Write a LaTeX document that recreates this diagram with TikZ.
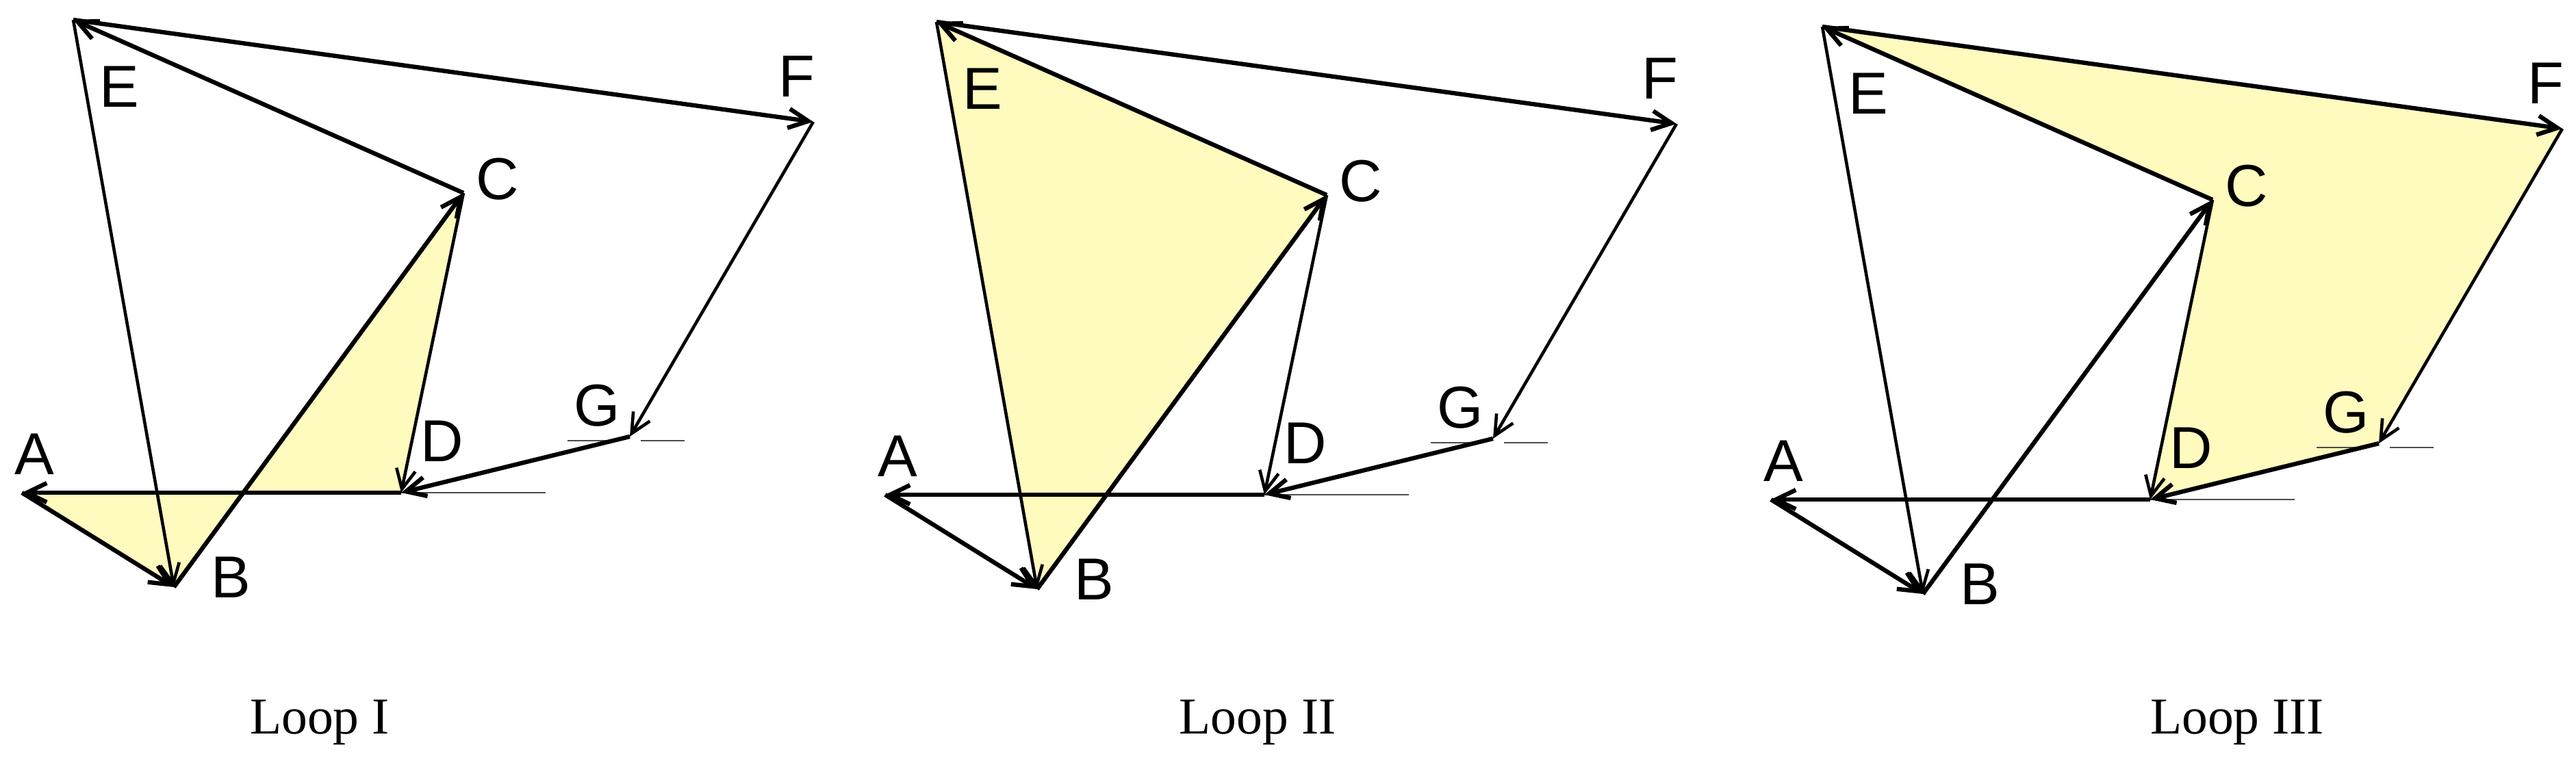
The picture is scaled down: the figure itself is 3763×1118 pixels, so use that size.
\documentclass[tikz,border=0pt]{standalone}
\usepackage{fontspec}
\setmainfont{Liberation Serif}
\newfontfamily\labfont{Liberation Sans}
\usetikzlibrary{arrows.meta}
\definecolor{loopfill}{RGB}{255,250,190}
\tikzset{
 vec/.style={line width=1.8pt, -{Straight Barb[length=2.9mm,width=2.8mm]}},
 vecthin/.style={line width=1.3pt, -{Straight Barb[length=2.9mm,width=2.8mm]}},
 refline/.style={line width=0.8pt, black!70},
 ptlabel/.style={font=\labfont\fontsize{24.6}{28}\selectfont, inner sep=0pt},
 looplabel/.style={font=\fontsize{21.5}{25}\selectfont, inner sep=0pt, anchor=base},
 loopregion/.style={fill=loopfill, draw=none},
}
\newcommand{\mkpts}[3]{%
 \begin{scope}[shift={(#2,#3)}]
  \coordinate (#1A) at (32,720);
  \coordinate (#1B) at (254,858);
  \coordinate (#1C) at (677,282);
  \coordinate (#1D) at (586,720);
  \coordinate (#1E) at (107,29);
  \coordinate (#1F) at (1188,178);
  \coordinate (#1G) at (920,638);
  \coordinate (#1R) at (797,720);
  \coordinate (#1Ga) at (829,644);
  \coordinate (#1Gb) at (903,644);
  \coordinate (#1Gc) at (936,644);
  \coordinate (#1Gd) at (1000,644);
 \end{scope}}
\newcommand{\mkedges}[3]{%
 \draw[refline] (#1D) -- (#1R);
 \draw[refline] (#1Ga) -- (#1Gb);
 \draw[refline] (#1Gc) -- (#1Gd);
 \draw[vec] (#1A) -- (#1B);
 \draw[vecthin] (#1E) -- (#1B);
 \draw[vec] (#1B) -- (#1C);
 \draw[vec] (#1C) -- (#1E);
 \draw[vecthin] (#1C) -- (#1D);
 \draw[vec] (#1E) -- (#1F);
 \draw[vecthin] (#1F) -- (#1G);
 \draw[vec] (#1G) -- (#1D);
 \draw[vec] (#1D) -- (#1A);
 \begin{scope}[shift={(#2,#3)}]
  \node[ptlabel] (#1lA) at (50,664) {A};
  \node[ptlabel] (#1lB) at (337,844) {B};
  \node[ptlabel] (#1lC) at (727,262) {C};
  \node[ptlabel] (#1lD) at (646,645) {D};
  \node[ptlabel] (#1lE) at (174,127) {E};
  \node[ptlabel] (#1lF) at (1164,112) {F};
  \node[ptlabel] (#1lG) at (872,593) {G};
 \end{scope}}
\begin{document}
\begin{tikzpicture}[x=0.01cm, y=-0.01cm]
 \useasboundingbox (0,0) rectangle (3763,1118);
 \mkpts{p}{0}{0}
 \mkpts{q}{1261}{3}
 \mkpts{r}{2555}{10}
 % shaded loops
 \fill[loopregion] (pA) -- (pB) -- (pC) -- (pD) -- cycle;
 \fill[loopregion] (qE) -- (qB) -- (qC) -- cycle;
 \fill[loopregion] (rE) -- (rF) -- (rG) -- (rD) -- (rC) -- cycle;
 \mkedges{p}{0}{0}
 \mkedges{q}{1261}{3}
 \mkedges{r}{2555}{10}
 \node[looplabel] (loop1) at (467,1072) {Loop I};
 \node[looplabel] (loop2) at (1837,1072) {Loop II};
 \node[looplabel] (loop3) at (3268,1072) {Loop III};
\end{tikzpicture}
\end{document}
